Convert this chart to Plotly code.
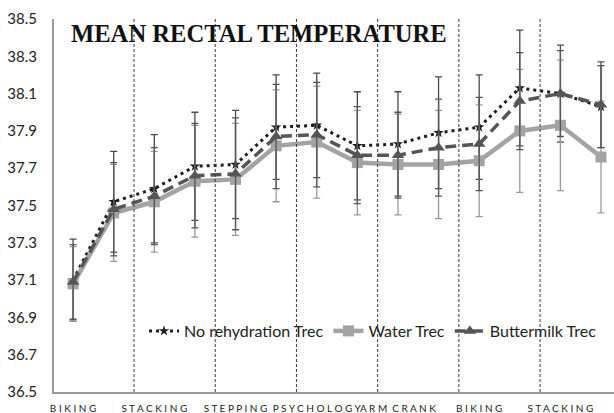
"""Mean rectal temperature across exercise phases, three rehydration arms."""

import plotly.graph_objects as go

# two readings per phase; only the first of each pair gets a label
PHASES = ["BIKING", "STACKING", "STEPPING", "PSYCHOLOGY", "ARM CRANK", "BIKING", "STACKING"]

NO_REHYD = [37.10, 37.52, 37.59, 37.71, 37.72, 37.92, 37.93, 37.82, 37.83, 37.89, 37.92, 38.13, 38.10, 38.03]
NO_REHYD_SD = [0.22, 0.27, 0.29, 0.29, 0.29, 0.28, 0.28, 0.29, 0.28, 0.30, 0.28, 0.31, 0.26, 0.22]

WATER = [37.08, 37.46, 37.52, 37.63, 37.64, 37.82, 37.84, 37.73, 37.72, 37.72, 37.74, 37.90, 37.93, 37.76]
WATER_SD = [0.20, 0.26, 0.27, 0.30, 0.30, 0.30, 0.30, 0.28, 0.27, 0.29, 0.30, 0.33, 0.35, 0.30]

BUTTERMILK = [37.09, 37.48, 37.55, 37.66, 37.67, 37.87, 37.88, 37.77, 37.77, 37.81, 37.83, 38.06, 38.10, 38.04]
BUTTERMILK_SD = [0.20, 0.25, 0.26, 0.28, 0.30, 0.28, 0.28, 0.26, 0.23, 0.26, 0.25, 0.26, 0.23, 0.23]

Y_TICKS = [36.5, 36.7, 36.9, 37.1, 37.3, 37.5, 37.7, 37.9, 38.1, 38.3, 38.5]

TITLE = "MEAN RECTAL TEMPERATURE"


def spaced(word):
    # Excel draws these axis labels with wide tracking
    return " ".join(word).replace("   ", "  ")


x = list(range(len(NO_REHYD)))

fig = go.Figure()


def add_series(name, y, sd, color, err_color, width, dash, symbol, size):
    fig.add_trace(
        go.Scatter(
            x=x,
            y=y,
            name=name,
            mode="lines+markers",
            line=dict(color=color, width=width, dash=dash),
            marker=dict(symbol=symbol, size=size, color=color),
            error_y=dict(
                type="data",
                array=sd,
                color=err_color,
                thickness=1.3,
                width=3.5,
            ),
        )
    )


add_series("No rehydration Trec", NO_REHYD, NO_REHYD_SD, "#1e1e1e", "#4a4a4a", 3, "3px,4px", "star", 8)
add_series("Water Trec", WATER, WATER_SD, "#a3a3a3", "#9a9a9a", 4.5, "solid", "square", 11)
add_series("Buttermilk Trec", BUTTERMILK, BUTTERMILK_SD, "#555555", "#555555", 3.5, "11px,6px", "triangle-up", 11)

# phase separators
for k in range(1, len(PHASES)):
    fig.add_vline(x=2 * k - 0.5, line_dash="3px,2px", line_color="#3a3a3a", line_width=1)

fig.add_annotation(
    text="<b>" + TITLE + "</b>",
    xref="paper",
    yref="paper",
    x=(69 - 54) / 560,
    y=(392 - 33) / 373,
    xanchor="left",
    yanchor="middle",
    showarrow=False,
    font=dict(family="Liberation Serif", size=24.6, color="#111111"),
)

fig.update_layout(
    width=614,
    height=413,
    margin=dict(l=54, r=0, t=19, b=21),
    plot_bgcolor="white",
    paper_bgcolor="white",
    font=dict(family="Lato", color="#222222"),
    showlegend=True,
    legend=dict(
        orientation="h",
        x=(144 - 54) / 560,
        y=(392 - 331) / 373,
        xanchor="left",
        yanchor="middle",
        bgcolor="rgba(0,0,0,0)",
        font=dict(size=16, color="#222222"),
        itemwidth=30,
        tracegroupgap=0,
    ),
    xaxis=dict(
        range=[-0.47, 13.32],
        tickvals=[2 * i for i in range(len(PHASES))],
        ticktext=[spaced(p) for p in PHASES],
        tickfont=dict(size=10, color="#222222"),
        tickangle=0,
        ticks="outside",
        ticklen=6,
        tickcolor="rgba(0,0,0,0)",
        showgrid=False,
        zeroline=False,
        showline=True,
        linecolor="#9a9a9a",
        linewidth=2,
        automargin=False,
    ),
    yaxis=dict(
        range=[36.5, 38.5],
        tickvals=Y_TICKS,
        ticktext=[f"{v:.1f}" for v in Y_TICKS],
        tickfont=dict(size=15, color="#222222"),
        ticks="outside",
        ticklen=12,
        tickcolor="rgba(0,0,0,0)",
        showgrid=False,
        zeroline=False,
        showline=True,
        linecolor="#9a9a9a",
        linewidth=2,
        automargin=False,
    ),
)

# the page body has a default margin that would push the 614x413 figure off-window
fig.write_html(
    "out.html",
    config={"displayModeBar": False},
    post_script="document.body.style.margin='0';",
)
